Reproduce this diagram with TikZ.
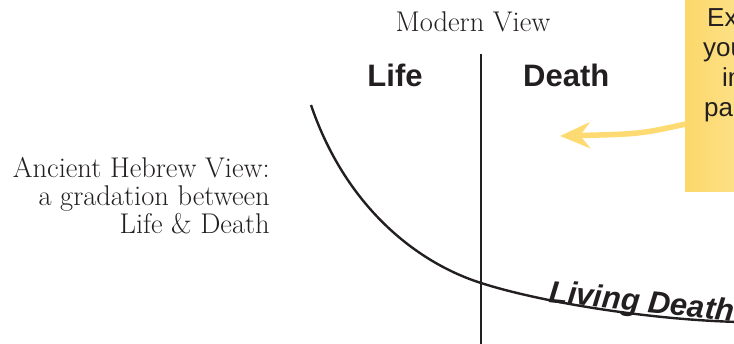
\documentclass[tikz,border=0pt]{standalone}
\usepackage{fontspec}
\newfontfamily\headfont{Liberation Sans}
\usetikzlibrary{arrows.meta,positioning}
\definecolor{ink}{HTML}{231F20}
\definecolor{notedark}{HTML}{FCD86A}
\definecolor{notelight}{HTML}{FEEAA8}
\definecolor{arrowyellow}{HTML}{FDDA72}
\begin{document}
\begin{tikzpicture}[x=1pt,y=-1pt,
  serif/.style={font=\fontsize{28.5}{28}\selectfont,text=ink,inner sep=0pt},
  heading/.style={font=\headfont\bfseries\fontsize{31}{34}\selectfont,text=ink,inner sep=0pt},
  notetext/.style={font=\headfont\fontsize{26}{30}\selectfont,text=ink,inner sep=0pt,anchor=base west},
  pointarrow/.style={arrowyellow,line width=5.5pt,-{Stealth[length=30pt,width=26pt,inset=10pt]}}]
\useasboundingbox (0,0) rectangle (734,344);
\clip (0,0) rectangle (734,344);

% modern view: a sharp border
\node[serif,anchor=base] (modern) at (473,32) {Modern View};
\node[heading,anchor=base] (life) at (395,87) {Life};
\node[heading,anchor=base west] (death) at (523,87) {Death};
\coordinate (divtop) at (481,54);
\coordinate (divbot) at (481,350);
\draw[ink,line width=2.4pt] (divtop) -- (divbot);

% ancient view: a gradation
\node[serif,align=right,anchor=north east] (ancient) at (270,157)
  {Ancient Hebrew View:\\a gradation between\\Life \& Death};
\coordinate (c0) at (311,105);
\coordinate (c1) at (481,283);
\coordinate (c2) at (740,322);
\draw[ink,line width=2.4pt] (c0) .. controls (345,205) and (415,262) .. (c1)
  .. controls (540,302) and (650,320) .. (c2);
\node[font=\headfont\bfseries\itshape\fontsize{31}{34}\selectfont,text=ink,
  inner sep=0pt,anchor=base west,rotate=-5.9] (living) at (548,302) {Living Death};

% the note, cut off at the edge
\node[draw=none,left color=notedark,right color=notelight,minimum width=110pt,
  minimum height=200pt,anchor=south west,inner sep=0pt] (note) at (685,192) {};
\node[notetext] (ex) at (707,27) {Ex};
\node[notetext] (you) at (703,57) {you};
\node[notetext] (in) at (722,87) {in};
\node[notetext] (pa) at (704,117) {pa};
\coordinate (tail) at (686,124);
\coordinate (tip) at (560,136);
\draw[pointarrow] (tail) .. controls (640,134) .. (tip);
\end{tikzpicture}
\end{document}
